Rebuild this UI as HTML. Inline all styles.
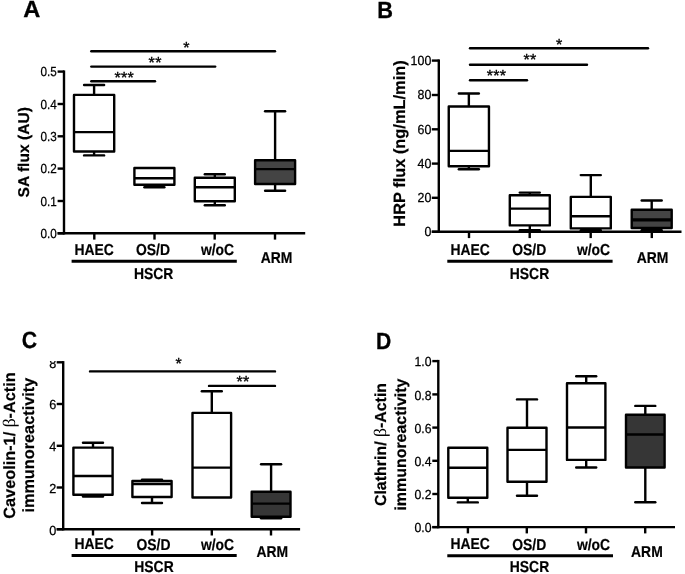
<!DOCTYPE html>
<html><head><meta charset="utf-8"><title>Figure</title>
<style>
html,body{margin:0;padding:0;background:#fff;}
body{width:685px;height:574px;overflow:hidden;font-family:"Liberation Sans", sans-serif;}
svg{display:block;will-change:transform;filter:grayscale(1) blur(0.4px);}
svg text{font-family:"Liberation Sans", sans-serif;fill:#000;text-rendering:geometricPrecision;}
</style></head><body>
<svg width="685" height="574" viewBox="0 0 685 574">
<defs><clipPath id="clip8"><rect x="0" y="360.9" width="70" height="20"/></clipPath></defs>
<rect x="0" y="0" width="685" height="574" fill="#ffffff"/>
<line x1="64.00" y1="70.40" x2="64.00" y2="234.50" stroke="#000" stroke-width="2.4" stroke-linecap="butt"/>
<line x1="57.60" y1="233.30" x2="305.20" y2="233.30" stroke="#000" stroke-width="2.4" stroke-linecap="butt"/>
<line x1="57.60" y1="71.60" x2="64.00" y2="71.60" stroke="#000" stroke-width="2.4" stroke-linecap="butt"/>
<text transform="translate(56.80,76.35) scale(0.89,1)" font-size="13.2" font-weight="normal" text-anchor="end" stroke="#000" stroke-width="0.25" >0.5</text>
<line x1="57.60" y1="104.00" x2="64.00" y2="104.00" stroke="#000" stroke-width="2.4" stroke-linecap="butt"/>
<text transform="translate(56.80,108.75) scale(0.89,1)" font-size="13.2" font-weight="normal" text-anchor="end" stroke="#000" stroke-width="0.25" >0.4</text>
<line x1="57.60" y1="136.30" x2="64.00" y2="136.30" stroke="#000" stroke-width="2.4" stroke-linecap="butt"/>
<text transform="translate(56.80,141.05) scale(0.89,1)" font-size="13.2" font-weight="normal" text-anchor="end" stroke="#000" stroke-width="0.25" >0.3</text>
<line x1="57.60" y1="168.60" x2="64.00" y2="168.60" stroke="#000" stroke-width="2.4" stroke-linecap="butt"/>
<text transform="translate(56.80,173.35) scale(0.89,1)" font-size="13.2" font-weight="normal" text-anchor="end" stroke="#000" stroke-width="0.25" >0.2</text>
<line x1="57.60" y1="201.00" x2="64.00" y2="201.00" stroke="#000" stroke-width="2.4" stroke-linecap="butt"/>
<text transform="translate(56.80,205.75) scale(0.89,1)" font-size="13.2" font-weight="normal" text-anchor="end" stroke="#000" stroke-width="0.25" >0.1</text>
<line x1="57.60" y1="233.30" x2="64.00" y2="233.30" stroke="#000" stroke-width="2.4" stroke-linecap="butt"/>
<text transform="translate(56.80,238.05) scale(0.89,1)" font-size="13.2" font-weight="normal" text-anchor="end" stroke="#000" stroke-width="0.25" >0.0</text>
<line x1="94.30" y1="233.30" x2="94.30" y2="239.60" stroke="#000" stroke-width="2.4" stroke-linecap="butt"/>
<line x1="154.50" y1="233.30" x2="154.50" y2="239.60" stroke="#000" stroke-width="2.4" stroke-linecap="butt"/>
<line x1="214.70" y1="233.30" x2="214.70" y2="239.60" stroke="#000" stroke-width="2.4" stroke-linecap="butt"/>
<line x1="275.00" y1="233.30" x2="275.00" y2="239.60" stroke="#000" stroke-width="2.4" stroke-linecap="butt"/>
<line x1="94.10" y1="85.00" x2="94.10" y2="94.90" stroke="#000" stroke-width="2.4" stroke-linecap="butt"/>
<line x1="84.10" y1="85.00" x2="104.10" y2="85.00" stroke="#000" stroke-width="2.4" stroke-linecap="round"/>
<line x1="94.10" y1="151.50" x2="94.10" y2="155.40" stroke="#000" stroke-width="2.4" stroke-linecap="butt"/>
<line x1="84.10" y1="155.40" x2="104.10" y2="155.40" stroke="#000" stroke-width="2.4" stroke-linecap="round"/>
<rect x="74.00" y="94.90" width="40.20" height="56.60" fill="#fff" stroke="#000" stroke-width="2.4" stroke-linejoin="round"/>
<line x1="74.00" y1="132.10" x2="114.20" y2="132.10" stroke="#000" stroke-width="2.4" stroke-linecap="butt"/>
<line x1="154.40" y1="184.70" x2="154.40" y2="187.20" stroke="#000" stroke-width="2.4" stroke-linecap="butt"/>
<line x1="144.40" y1="187.20" x2="164.40" y2="187.20" stroke="#000" stroke-width="2.4" stroke-linecap="round"/>
<rect x="134.40" y="168.00" width="40.00" height="16.70" fill="#fff" stroke="#000" stroke-width="2.4" stroke-linejoin="round"/>
<line x1="134.40" y1="178.20" x2="174.40" y2="178.20" stroke="#000" stroke-width="2.4" stroke-linecap="butt"/>
<line x1="214.80" y1="174.20" x2="214.80" y2="177.80" stroke="#000" stroke-width="2.4" stroke-linecap="butt"/>
<line x1="204.80" y1="174.20" x2="224.80" y2="174.20" stroke="#000" stroke-width="2.4" stroke-linecap="round"/>
<line x1="214.80" y1="201.20" x2="214.80" y2="205.20" stroke="#000" stroke-width="2.4" stroke-linecap="butt"/>
<line x1="204.80" y1="205.20" x2="224.80" y2="205.20" stroke="#000" stroke-width="2.4" stroke-linecap="round"/>
<rect x="194.80" y="177.80" width="40.00" height="23.40" fill="#fff" stroke="#000" stroke-width="2.4" stroke-linejoin="round"/>
<line x1="194.80" y1="187.30" x2="234.80" y2="187.30" stroke="#000" stroke-width="2.4" stroke-linecap="butt"/>
<line x1="275.10" y1="111.30" x2="275.10" y2="160.30" stroke="#000" stroke-width="2.4" stroke-linecap="butt"/>
<line x1="265.10" y1="111.30" x2="285.10" y2="111.30" stroke="#000" stroke-width="2.4" stroke-linecap="round"/>
<line x1="275.10" y1="184.00" x2="275.10" y2="190.80" stroke="#000" stroke-width="2.4" stroke-linecap="butt"/>
<line x1="265.10" y1="190.80" x2="285.10" y2="190.80" stroke="#000" stroke-width="2.4" stroke-linecap="round"/>
<rect x="255.10" y="160.30" width="40.00" height="23.70" fill="#444444" stroke="#000" stroke-width="2.4" stroke-linejoin="round"/>
<line x1="255.10" y1="169.10" x2="295.10" y2="169.10" stroke="#000" stroke-width="2.4" stroke-linecap="butt"/>
<line x1="91.30" y1="51.20" x2="275.00" y2="51.20" stroke="#000" stroke-width="2.4" stroke-linecap="round"/>
<line x1="91.30" y1="66.60" x2="215.20" y2="66.60" stroke="#000" stroke-width="2.4" stroke-linecap="round"/>
<line x1="91.30" y1="81.20" x2="155.00" y2="81.20" stroke="#000" stroke-width="2.4" stroke-linecap="round"/>
<text x="186.50" y="52.90" font-size="16.0" font-weight="normal" text-anchor="middle" stroke="#000" stroke-width="0.35" letter-spacing="0.35">*</text>
<text x="155.20" y="68.30" font-size="16.0" font-weight="normal" text-anchor="middle" stroke="#000" stroke-width="0.35" letter-spacing="0.35">**</text>
<text x="124.30" y="82.60" font-size="16.0" font-weight="normal" text-anchor="middle" stroke="#000" stroke-width="0.35" letter-spacing="0.35">***</text>
<text transform="translate(94.20,255.10) scale(0.88,1)" font-size="15.8" font-weight="bold" text-anchor="middle" stroke="#000" stroke-width="0.2" >HAEC</text>
<text transform="translate(153.00,255.10) scale(0.88,1)" font-size="15.8" font-weight="bold" text-anchor="middle" stroke="#000" stroke-width="0.2" >OS/D</text>
<text transform="translate(217.50,255.10) scale(0.88,1)" font-size="15.8" font-weight="bold" text-anchor="middle" stroke="#000" stroke-width="0.2" >w/oC</text>
<text transform="translate(276.60,262.70) scale(0.88,1)" font-size="15.8" font-weight="bold" text-anchor="middle" stroke="#000" stroke-width="0.2" >ARM</text>
<text transform="translate(153.60,279.10) scale(0.88,1)" font-size="15.8" font-weight="bold" text-anchor="middle" stroke="#000" stroke-width="0.2" >HSCR</text>
<line x1="71.60" y1="261.20" x2="236.80" y2="261.20" stroke="#000" stroke-width="3.0" stroke-linecap="butt"/>
<text transform="translate(31.90,16.95) scale(1.01,1)" font-size="23.4" font-weight="bold" text-anchor="middle" stroke="#000" stroke-width="0.3" >A</text>
<text transform="translate(28.90,152.30) rotate(-90)" font-size="15.6" font-weight="bold" text-anchor="middle" stroke="#000" stroke-width="0.2">SA flux (AU)</text>
<line x1="438.80" y1="59.40" x2="438.80" y2="233.00" stroke="#000" stroke-width="2.4" stroke-linecap="butt"/>
<line x1="431.80" y1="231.80" x2="681.50" y2="231.80" stroke="#000" stroke-width="2.4" stroke-linecap="butt"/>
<line x1="431.80" y1="60.60" x2="438.80" y2="60.60" stroke="#000" stroke-width="2.4" stroke-linecap="butt"/>
<text transform="translate(431.30,65.05) scale(0.94,1)" font-size="13.2" font-weight="normal" text-anchor="end" stroke="#000" stroke-width="0.25" >100</text>
<line x1="431.80" y1="95.00" x2="438.80" y2="95.00" stroke="#000" stroke-width="2.4" stroke-linecap="butt"/>
<text transform="translate(431.30,99.45) scale(0.94,1)" font-size="13.2" font-weight="normal" text-anchor="end" stroke="#000" stroke-width="0.25" >80</text>
<line x1="431.80" y1="129.30" x2="438.80" y2="129.30" stroke="#000" stroke-width="2.4" stroke-linecap="butt"/>
<text transform="translate(431.30,133.75) scale(0.94,1)" font-size="13.2" font-weight="normal" text-anchor="end" stroke="#000" stroke-width="0.25" >60</text>
<line x1="431.80" y1="163.60" x2="438.80" y2="163.60" stroke="#000" stroke-width="2.4" stroke-linecap="butt"/>
<text transform="translate(431.30,168.05) scale(0.94,1)" font-size="13.2" font-weight="normal" text-anchor="end" stroke="#000" stroke-width="0.25" >40</text>
<line x1="431.80" y1="197.80" x2="438.80" y2="197.80" stroke="#000" stroke-width="2.4" stroke-linecap="butt"/>
<text transform="translate(431.30,202.25) scale(0.94,1)" font-size="13.2" font-weight="normal" text-anchor="end" stroke="#000" stroke-width="0.25" >20</text>
<line x1="431.80" y1="231.80" x2="438.80" y2="231.80" stroke="#000" stroke-width="2.4" stroke-linecap="butt"/>
<text transform="translate(431.30,236.25) scale(0.94,1)" font-size="13.2" font-weight="normal" text-anchor="end" stroke="#000" stroke-width="0.25" >0</text>
<line x1="469.00" y1="231.80" x2="469.00" y2="238.10" stroke="#000" stroke-width="2.4" stroke-linecap="butt"/>
<line x1="529.70" y1="231.80" x2="529.70" y2="238.10" stroke="#000" stroke-width="2.4" stroke-linecap="butt"/>
<line x1="590.70" y1="231.80" x2="590.70" y2="238.10" stroke="#000" stroke-width="2.4" stroke-linecap="butt"/>
<line x1="651.80" y1="231.80" x2="651.80" y2="238.10" stroke="#000" stroke-width="2.4" stroke-linecap="butt"/>
<line x1="468.85" y1="93.50" x2="468.85" y2="106.50" stroke="#000" stroke-width="2.4" stroke-linecap="butt"/>
<line x1="458.85" y1="93.50" x2="478.85" y2="93.50" stroke="#000" stroke-width="2.4" stroke-linecap="round"/>
<line x1="468.85" y1="166.20" x2="468.85" y2="169.20" stroke="#000" stroke-width="2.4" stroke-linecap="butt"/>
<line x1="458.85" y1="169.20" x2="478.85" y2="169.20" stroke="#000" stroke-width="2.4" stroke-linecap="round"/>
<rect x="448.75" y="106.50" width="40.20" height="59.70" fill="#fff" stroke="#000" stroke-width="2.4" stroke-linejoin="round"/>
<line x1="448.75" y1="150.90" x2="488.95" y2="150.90" stroke="#000" stroke-width="2.4" stroke-linecap="butt"/>
<line x1="529.80" y1="192.60" x2="529.80" y2="195.30" stroke="#000" stroke-width="2.4" stroke-linecap="butt"/>
<line x1="519.80" y1="192.60" x2="539.80" y2="192.60" stroke="#000" stroke-width="2.4" stroke-linecap="round"/>
<line x1="529.80" y1="225.40" x2="529.80" y2="230.20" stroke="#000" stroke-width="2.4" stroke-linecap="butt"/>
<line x1="519.80" y1="230.20" x2="539.80" y2="230.20" stroke="#000" stroke-width="2.4" stroke-linecap="round"/>
<rect x="509.80" y="195.30" width="40.00" height="30.10" fill="#fff" stroke="#000" stroke-width="2.4" stroke-linejoin="round"/>
<line x1="509.80" y1="208.60" x2="549.80" y2="208.60" stroke="#000" stroke-width="2.4" stroke-linecap="butt"/>
<line x1="590.80" y1="175.10" x2="590.80" y2="196.90" stroke="#000" stroke-width="2.4" stroke-linecap="butt"/>
<line x1="580.80" y1="175.10" x2="600.80" y2="175.10" stroke="#000" stroke-width="2.4" stroke-linecap="round"/>
<line x1="590.80" y1="228.40" x2="590.80" y2="230.30" stroke="#000" stroke-width="2.4" stroke-linecap="butt"/>
<line x1="580.80" y1="230.30" x2="600.80" y2="230.30" stroke="#000" stroke-width="2.4" stroke-linecap="round"/>
<rect x="570.80" y="196.90" width="40.00" height="31.50" fill="#fff" stroke="#000" stroke-width="2.4" stroke-linejoin="round"/>
<line x1="570.80" y1="216.20" x2="610.80" y2="216.20" stroke="#000" stroke-width="2.4" stroke-linecap="butt"/>
<line x1="651.70" y1="200.50" x2="651.70" y2="209.70" stroke="#000" stroke-width="2.4" stroke-linecap="butt"/>
<line x1="641.70" y1="200.50" x2="661.70" y2="200.50" stroke="#000" stroke-width="2.4" stroke-linecap="round"/>
<line x1="651.70" y1="228.00" x2="651.70" y2="230.20" stroke="#000" stroke-width="2.4" stroke-linecap="butt"/>
<line x1="641.70" y1="230.20" x2="661.70" y2="230.20" stroke="#000" stroke-width="2.4" stroke-linecap="round"/>
<rect x="631.70" y="209.70" width="40.00" height="18.30" fill="#444444" stroke="#000" stroke-width="2.4" stroke-linejoin="round"/>
<line x1="631.70" y1="219.90" x2="671.70" y2="219.90" stroke="#000" stroke-width="3.3" stroke-linecap="butt"/>
<line x1="470.00" y1="48.20" x2="648.00" y2="48.20" stroke="#000" stroke-width="2.4" stroke-linecap="round"/>
<line x1="470.00" y1="64.80" x2="587.00" y2="64.80" stroke="#000" stroke-width="2.4" stroke-linecap="round"/>
<line x1="470.00" y1="80.30" x2="527.00" y2="80.30" stroke="#000" stroke-width="2.4" stroke-linecap="round"/>
<text x="559.20" y="50.00" font-size="16.0" font-weight="normal" text-anchor="middle" stroke="#000" stroke-width="0.35" letter-spacing="0.35">*</text>
<text x="530.00" y="65.10" font-size="16.0" font-weight="normal" text-anchor="middle" stroke="#000" stroke-width="0.35" letter-spacing="0.35">**</text>
<text x="496.60" y="80.90" font-size="16.0" font-weight="normal" text-anchor="middle" stroke="#000" stroke-width="0.35" letter-spacing="0.35">***</text>
<text transform="translate(470.10,255.10) scale(0.88,1)" font-size="15.8" font-weight="bold" text-anchor="middle" stroke="#000" stroke-width="0.2" >HAEC</text>
<text transform="translate(529.20,255.40) scale(0.88,1)" font-size="15.8" font-weight="bold" text-anchor="middle" stroke="#000" stroke-width="0.2" >OS/D</text>
<text transform="translate(593.50,255.40) scale(0.88,1)" font-size="15.8" font-weight="bold" text-anchor="middle" stroke="#000" stroke-width="0.2" >w/oC</text>
<text transform="translate(652.60,262.90) scale(0.88,1)" font-size="15.8" font-weight="bold" text-anchor="middle" stroke="#000" stroke-width="0.2" >ARM</text>
<text transform="translate(529.50,278.60) scale(0.88,1)" font-size="15.8" font-weight="bold" text-anchor="middle" stroke="#000" stroke-width="0.2" >HSCR</text>
<line x1="447.30" y1="261.30" x2="612.60" y2="261.30" stroke="#000" stroke-width="3.0" stroke-linecap="butt"/>
<text transform="translate(385.00,17.72) scale(0.931,1)" font-size="23.4" font-weight="bold" text-anchor="middle" stroke="#000" stroke-width="0.3" >B</text>
<text transform="translate(405.00,143.50) rotate(-90)" font-size="16.4" font-weight="bold" text-anchor="middle" stroke="#000" stroke-width="0.2">HRP flux (ng/mL/min)</text>
<line x1="63.20" y1="361.10" x2="63.20" y2="530.40" stroke="#000" stroke-width="2.4" stroke-linecap="butt"/>
<line x1="56.70" y1="529.20" x2="300.10" y2="529.20" stroke="#000" stroke-width="2.4" stroke-linecap="butt"/>
<line x1="56.70" y1="362.30" x2="63.20" y2="362.30" stroke="#000" stroke-width="2.4" stroke-linecap="butt"/>
<g clip-path="url(#clip8)">
<text transform="translate(56.30,367.75) scale(0.96,1)" font-size="13.2" font-weight="normal" text-anchor="end" stroke="#000" stroke-width="0.25">8</text></g>
<line x1="56.70" y1="404.00" x2="63.20" y2="404.00" stroke="#000" stroke-width="2.4" stroke-linecap="butt"/>
<text transform="translate(56.30,409.45) scale(0.96,1)" font-size="13.2" font-weight="normal" text-anchor="end" stroke="#000" stroke-width="0.25" >6</text>
<line x1="56.70" y1="445.80" x2="63.20" y2="445.80" stroke="#000" stroke-width="2.4" stroke-linecap="butt"/>
<text transform="translate(56.30,451.25) scale(0.96,1)" font-size="13.2" font-weight="normal" text-anchor="end" stroke="#000" stroke-width="0.25" >4</text>
<line x1="56.70" y1="487.50" x2="63.20" y2="487.50" stroke="#000" stroke-width="2.4" stroke-linecap="butt"/>
<text transform="translate(56.30,492.95) scale(0.96,1)" font-size="13.2" font-weight="normal" text-anchor="end" stroke="#000" stroke-width="0.25" >2</text>
<line x1="56.70" y1="529.20" x2="63.20" y2="529.20" stroke="#000" stroke-width="2.4" stroke-linecap="butt"/>
<text transform="translate(56.30,534.65) scale(0.96,1)" font-size="13.2" font-weight="normal" text-anchor="end" stroke="#000" stroke-width="0.25" >0</text>
<line x1="93.00" y1="529.20" x2="93.00" y2="535.50" stroke="#000" stroke-width="2.4" stroke-linecap="butt"/>
<line x1="152.10" y1="529.20" x2="152.10" y2="535.50" stroke="#000" stroke-width="2.4" stroke-linecap="butt"/>
<line x1="211.80" y1="529.20" x2="211.80" y2="535.50" stroke="#000" stroke-width="2.4" stroke-linecap="butt"/>
<line x1="271.00" y1="529.20" x2="271.00" y2="535.50" stroke="#000" stroke-width="2.4" stroke-linecap="butt"/>
<line x1="93.00" y1="442.80" x2="93.00" y2="447.60" stroke="#000" stroke-width="2.4" stroke-linecap="butt"/>
<line x1="83.00" y1="442.80" x2="103.00" y2="442.80" stroke="#000" stroke-width="2.4" stroke-linecap="round"/>
<line x1="93.00" y1="494.80" x2="93.00" y2="496.60" stroke="#000" stroke-width="2.4" stroke-linecap="butt"/>
<line x1="83.00" y1="496.60" x2="103.00" y2="496.60" stroke="#000" stroke-width="2.4" stroke-linecap="round"/>
<rect x="73.40" y="447.60" width="39.20" height="47.20" fill="#fff" stroke="#000" stroke-width="2.4" stroke-linejoin="round"/>
<line x1="73.40" y1="476.00" x2="112.60" y2="476.00" stroke="#000" stroke-width="2.4" stroke-linecap="butt"/>
<line x1="152.00" y1="479.70" x2="152.00" y2="481.00" stroke="#000" stroke-width="2.4" stroke-linecap="butt"/>
<line x1="142.00" y1="479.70" x2="162.00" y2="479.70" stroke="#000" stroke-width="2.4" stroke-linecap="round"/>
<line x1="152.00" y1="497.00" x2="152.00" y2="503.00" stroke="#000" stroke-width="2.4" stroke-linecap="butt"/>
<line x1="142.00" y1="503.00" x2="162.00" y2="503.00" stroke="#000" stroke-width="2.4" stroke-linecap="round"/>
<rect x="132.40" y="481.00" width="39.20" height="16.00" fill="#fff" stroke="#000" stroke-width="2.4" stroke-linejoin="round"/>
<line x1="132.40" y1="484.00" x2="171.60" y2="484.00" stroke="#000" stroke-width="2.4" stroke-linecap="butt"/>
<line x1="211.80" y1="391.30" x2="211.80" y2="412.90" stroke="#000" stroke-width="2.4" stroke-linecap="butt"/>
<line x1="201.80" y1="391.30" x2="221.80" y2="391.30" stroke="#000" stroke-width="2.4" stroke-linecap="round"/>
<rect x="192.50" y="412.90" width="38.60" height="84.60" fill="#fff" stroke="#000" stroke-width="2.4" stroke-linejoin="round"/>
<line x1="192.50" y1="467.60" x2="231.10" y2="467.60" stroke="#000" stroke-width="2.4" stroke-linecap="butt"/>
<line x1="271.10" y1="464.20" x2="271.10" y2="491.70" stroke="#000" stroke-width="2.4" stroke-linecap="butt"/>
<line x1="261.10" y1="464.20" x2="281.10" y2="464.20" stroke="#000" stroke-width="2.4" stroke-linecap="round"/>
<line x1="271.10" y1="516.70" x2="271.10" y2="518.20" stroke="#000" stroke-width="2.4" stroke-linecap="butt"/>
<line x1="261.10" y1="518.20" x2="281.10" y2="518.20" stroke="#000" stroke-width="2.4" stroke-linecap="round"/>
<rect x="251.70" y="491.70" width="38.80" height="25.00" fill="#363636" stroke="#000" stroke-width="2.4" stroke-linejoin="round"/>
<line x1="251.70" y1="503.60" x2="290.50" y2="503.60" stroke="#000" stroke-width="2.4" stroke-linecap="butt"/>
<line x1="90.00" y1="371.40" x2="275.00" y2="371.40" stroke="#000" stroke-width="2.4" stroke-linecap="round"/>
<line x1="209.00" y1="385.90" x2="275.00" y2="385.90" stroke="#000" stroke-width="2.4" stroke-linecap="round"/>
<text x="178.90" y="369.00" font-size="16.0" font-weight="normal" text-anchor="middle" stroke="#000" stroke-width="0.35" letter-spacing="0.35">*</text>
<text x="243.00" y="387.20" font-size="16.0" font-weight="normal" text-anchor="middle" stroke="#000" stroke-width="0.35" letter-spacing="0.35">**</text>
<text transform="translate(94.20,549.40) scale(0.88,1)" font-size="15.8" font-weight="bold" text-anchor="middle" stroke="#000" stroke-width="0.2" >HAEC</text>
<text transform="translate(153.50,549.60) scale(0.88,1)" font-size="15.8" font-weight="bold" text-anchor="middle" stroke="#000" stroke-width="0.2" >OS/D</text>
<text transform="translate(217.50,549.60) scale(0.88,1)" font-size="15.8" font-weight="bold" text-anchor="middle" stroke="#000" stroke-width="0.2" >w/oC</text>
<text transform="translate(272.30,556.90) scale(0.88,1)" font-size="15.8" font-weight="bold" text-anchor="middle" stroke="#000" stroke-width="0.2" >ARM</text>
<text transform="translate(154.00,572.20) scale(0.88,1)" font-size="15.8" font-weight="bold" text-anchor="middle" stroke="#000" stroke-width="0.2" >HSCR</text>
<line x1="71.60" y1="555.60" x2="236.70" y2="555.60" stroke="#000" stroke-width="3.0" stroke-linecap="butt"/>
<text transform="translate(29.35,348.00) scale(0.905,1)" font-size="23.4" font-weight="bold" text-anchor="middle" stroke="#000" stroke-width="0.3" >C</text>
<text transform="translate(15.40,445.50) rotate(-90)" font-size="16.3" font-weight="bold" text-anchor="middle" stroke="#000" stroke-width="0.2">Caveolin-1/ <tspan font-weight="normal" font-size="17.5" stroke-width="0" font-family='"Liberation Serif", serif'>β</tspan>-Actin</text>
<text transform="translate(34.30,445.20) rotate(-90)" font-size="16.3" font-weight="bold" text-anchor="middle" stroke="#000" stroke-width="0.2">immunoreactivity</text>
<line x1="438.30" y1="359.90" x2="438.30" y2="528.30" stroke="#000" stroke-width="2.4" stroke-linecap="butt"/>
<line x1="432.30" y1="527.10" x2="675.00" y2="527.10" stroke="#000" stroke-width="2.4" stroke-linecap="butt"/>
<line x1="432.30" y1="361.10" x2="438.30" y2="361.10" stroke="#000" stroke-width="2.4" stroke-linecap="butt"/>
<text transform="translate(431.50,366.45) scale(0.93,1)" font-size="13.2" font-weight="normal" text-anchor="end" stroke="#000" stroke-width="0.25" >1.0</text>
<line x1="432.30" y1="394.40" x2="438.30" y2="394.40" stroke="#000" stroke-width="2.4" stroke-linecap="butt"/>
<text transform="translate(431.50,399.75) scale(0.93,1)" font-size="13.2" font-weight="normal" text-anchor="end" stroke="#000" stroke-width="0.25" >0.8</text>
<line x1="432.30" y1="427.60" x2="438.30" y2="427.60" stroke="#000" stroke-width="2.4" stroke-linecap="butt"/>
<text transform="translate(431.50,432.95) scale(0.93,1)" font-size="13.2" font-weight="normal" text-anchor="end" stroke="#000" stroke-width="0.25" >0.6</text>
<line x1="432.30" y1="460.80" x2="438.30" y2="460.80" stroke="#000" stroke-width="2.4" stroke-linecap="butt"/>
<text transform="translate(431.50,466.15) scale(0.93,1)" font-size="13.2" font-weight="normal" text-anchor="end" stroke="#000" stroke-width="0.25" >0.4</text>
<line x1="432.30" y1="494.00" x2="438.30" y2="494.00" stroke="#000" stroke-width="2.4" stroke-linecap="butt"/>
<text transform="translate(431.50,499.35) scale(0.93,1)" font-size="13.2" font-weight="normal" text-anchor="end" stroke="#000" stroke-width="0.25" >0.2</text>
<line x1="432.30" y1="527.10" x2="438.30" y2="527.10" stroke="#000" stroke-width="2.4" stroke-linecap="butt"/>
<text transform="translate(431.50,532.45) scale(0.93,1)" font-size="13.2" font-weight="normal" text-anchor="end" stroke="#000" stroke-width="0.25" >0.0</text>
<line x1="467.90" y1="527.10" x2="467.90" y2="533.40" stroke="#000" stroke-width="2.4" stroke-linecap="butt"/>
<line x1="526.80" y1="527.10" x2="526.80" y2="533.40" stroke="#000" stroke-width="2.4" stroke-linecap="butt"/>
<line x1="586.00" y1="527.10" x2="586.00" y2="533.40" stroke="#000" stroke-width="2.4" stroke-linecap="butt"/>
<line x1="645.20" y1="527.10" x2="645.20" y2="533.40" stroke="#000" stroke-width="2.4" stroke-linecap="butt"/>
<line x1="467.80" y1="497.80" x2="467.80" y2="502.40" stroke="#000" stroke-width="2.4" stroke-linecap="butt"/>
<line x1="457.80" y1="502.40" x2="477.80" y2="502.40" stroke="#000" stroke-width="2.4" stroke-linecap="round"/>
<rect x="448.30" y="447.70" width="39.00" height="50.10" fill="#fff" stroke="#000" stroke-width="2.4" stroke-linejoin="round"/>
<line x1="448.30" y1="467.70" x2="487.30" y2="467.70" stroke="#000" stroke-width="2.4" stroke-linecap="butt"/>
<line x1="527.00" y1="399.40" x2="527.00" y2="427.80" stroke="#000" stroke-width="2.4" stroke-linecap="butt"/>
<line x1="517.00" y1="399.40" x2="537.00" y2="399.40" stroke="#000" stroke-width="2.4" stroke-linecap="round"/>
<line x1="527.00" y1="481.80" x2="527.00" y2="495.80" stroke="#000" stroke-width="2.4" stroke-linecap="butt"/>
<line x1="517.00" y1="495.80" x2="537.00" y2="495.80" stroke="#000" stroke-width="2.4" stroke-linecap="round"/>
<rect x="507.50" y="427.80" width="39.00" height="54.00" fill="#fff" stroke="#000" stroke-width="2.4" stroke-linejoin="round"/>
<line x1="507.50" y1="449.90" x2="546.50" y2="449.90" stroke="#000" stroke-width="2.4" stroke-linecap="butt"/>
<line x1="586.20" y1="376.20" x2="586.20" y2="383.20" stroke="#000" stroke-width="2.4" stroke-linecap="butt"/>
<line x1="576.20" y1="376.20" x2="596.20" y2="376.20" stroke="#000" stroke-width="2.4" stroke-linecap="round"/>
<line x1="586.20" y1="459.90" x2="586.20" y2="467.50" stroke="#000" stroke-width="2.4" stroke-linecap="butt"/>
<line x1="576.20" y1="467.50" x2="596.20" y2="467.50" stroke="#000" stroke-width="2.4" stroke-linecap="round"/>
<rect x="567.00" y="383.20" width="38.40" height="76.70" fill="#fff" stroke="#000" stroke-width="2.4" stroke-linejoin="round"/>
<line x1="567.00" y1="427.50" x2="605.40" y2="427.50" stroke="#000" stroke-width="2.4" stroke-linecap="butt"/>
<line x1="645.30" y1="405.90" x2="645.30" y2="414.80" stroke="#000" stroke-width="2.4" stroke-linecap="butt"/>
<line x1="635.30" y1="405.90" x2="655.30" y2="405.90" stroke="#000" stroke-width="2.4" stroke-linecap="round"/>
<line x1="645.30" y1="467.50" x2="645.30" y2="502.30" stroke="#000" stroke-width="2.4" stroke-linecap="butt"/>
<line x1="635.30" y1="502.30" x2="655.30" y2="502.30" stroke="#000" stroke-width="2.4" stroke-linecap="round"/>
<rect x="626.00" y="414.80" width="38.60" height="52.70" fill="#363636" stroke="#000" stroke-width="2.4" stroke-linejoin="round"/>
<line x1="626.00" y1="434.50" x2="664.60" y2="434.50" stroke="#000" stroke-width="2.4" stroke-linecap="butt"/>
<text transform="translate(470.10,549.40) scale(0.88,1)" font-size="15.8" font-weight="bold" text-anchor="middle" stroke="#000" stroke-width="0.2" >HAEC</text>
<text transform="translate(529.20,549.70) scale(0.88,1)" font-size="15.8" font-weight="bold" text-anchor="middle" stroke="#000" stroke-width="0.2" >OS/D</text>
<text transform="translate(593.50,549.70) scale(0.88,1)" font-size="15.8" font-weight="bold" text-anchor="middle" stroke="#000" stroke-width="0.2" >w/oC</text>
<text transform="translate(646.90,557.00) scale(0.88,1)" font-size="15.8" font-weight="bold" text-anchor="middle" stroke="#000" stroke-width="0.2" >ARM</text>
<text transform="translate(529.50,572.40) scale(0.88,1)" font-size="15.8" font-weight="bold" text-anchor="middle" stroke="#000" stroke-width="0.2" >HSCR</text>
<line x1="447.30" y1="555.70" x2="613.00" y2="555.70" stroke="#000" stroke-width="3.0" stroke-linecap="butt"/>
<text transform="translate(383.60,348.52) scale(0.904,1)" font-size="23.4" font-weight="bold" text-anchor="middle" stroke="#000" stroke-width="0.3" >D</text>
<text transform="translate(386.00,444.50) rotate(-90)" font-size="15.95" font-weight="bold" text-anchor="middle" stroke="#000" stroke-width="0.2">Clathrin/ <tspan font-weight="normal" font-size="17.5" stroke-width="0" font-family='"Liberation Serif", serif'>β</tspan>-Actin</text>
<text transform="translate(405.80,444.60) rotate(-90)" font-size="15.95" font-weight="bold" text-anchor="middle" stroke="#000" stroke-width="0.2">immunoreactivity</text>
</svg>
</body></html>
